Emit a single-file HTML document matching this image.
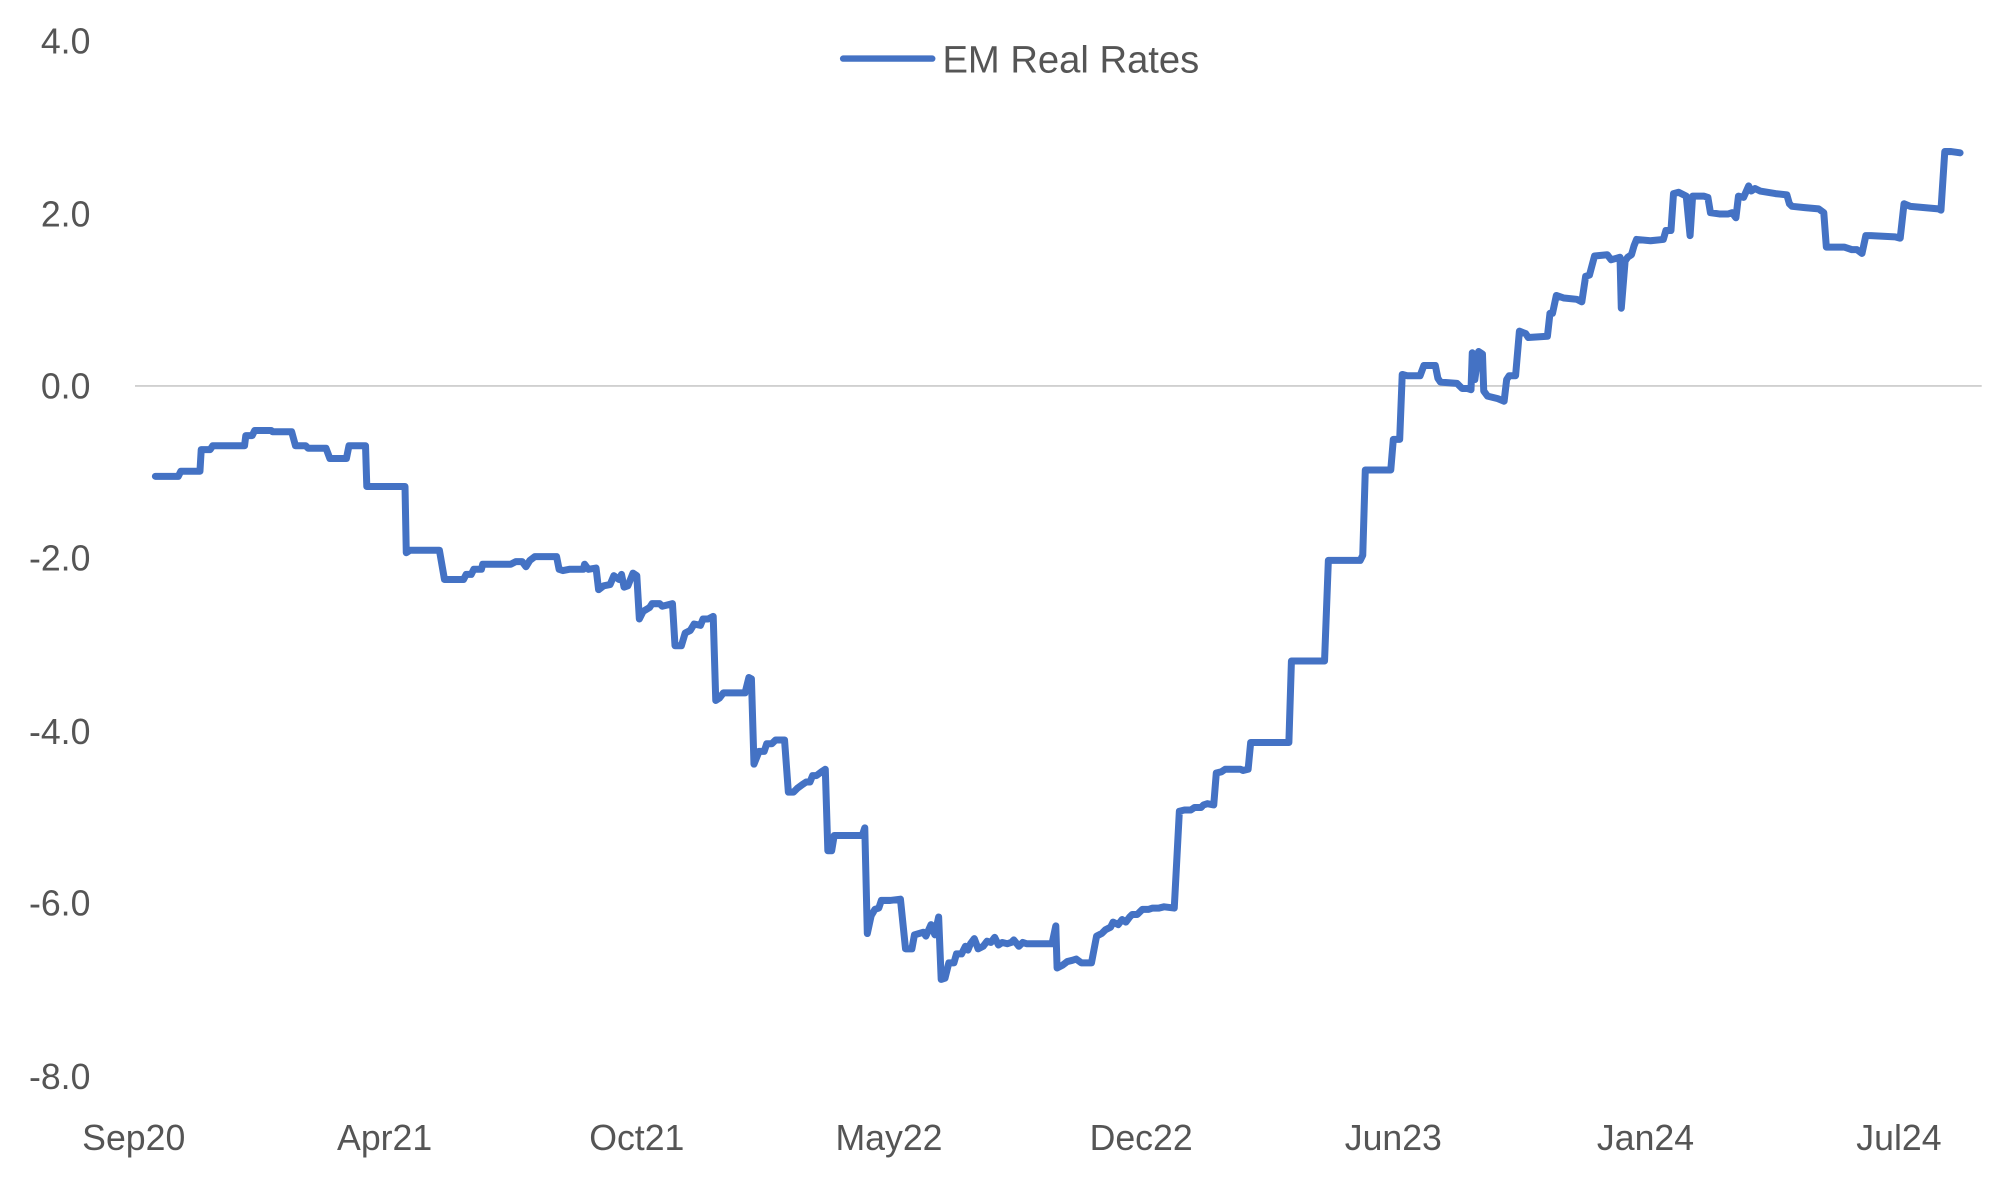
<!DOCTYPE html>
<html><head><meta charset="utf-8"><style>
html,body{margin:0;padding:0;background:#fff;}
svg{display:block;}
text{font-family:"Liberation Sans",sans-serif;fill:#555;}
</style></head><body>
<svg width="1997" height="1187" viewBox="0 0 1568 932" xmlns="http://www.w3.org/2000/svg">
<line x1="106" y1="303" x2="1556" y2="303" stroke="#d0d0d0" stroke-width="1.5"/>
<g font-size="28" text-anchor="end">
<text x="71" y="42">4.0</text>
<text x="71" y="178">2.0</text>
<text x="71" y="313">0.0</text>
<text x="71" y="448">-2.0</text>
<text x="71" y="584">-4.0</text>
<text x="71" y="719">-6.0</text>
<text x="71" y="855">-8.0</text>
</g>
<g font-size="28" text-anchor="middle">
<text x="105" y="903">Sep20</text>
<text x="302" y="903">Apr21</text>
<text x="500" y="903">Oct21</text>
<text x="698" y="903">May22</text>
<text x="896" y="903">Dec22</text>
<text x="1094" y="903">Jun23</text>
<text x="1292" y="903">Jan24</text>
<text x="1491" y="903">Jul24</text>
</g>
<line x1="662" y1="46" x2="732" y2="46" stroke="#4472c4" stroke-width="5" stroke-linecap="round"/>
<text x="740" y="57" font-size="30">EM Real Rates</text>
<polyline fill="none" stroke="#4472c4" stroke-width="5.5" stroke-linejoin="round" stroke-linecap="round" points="122,374 140,374 142,370 157,370 158,353 165,353 167,350 192,350 193,342 198,342 200,338 213,338 214,339 229,339 232,350 240,350 242,352 256,352 259,360 272,360 274,350 287,350 288,382 318,382 319,434 322,432 345,432 349,455 364,455 366,451 370,451 372,447 378,447 379,443 401,443 405,441 410,441 413,445 416,440 420,437 437,437 439,447 442,448 447,447 458,447 459,443 462,447 468,446 470,463 474,460 479,459 482,452 486,455 488,451 490,461 493,460 497,450 500,452 502,486 505,480 510,477 512,474 518,474 520,476 528,474 530,507 535,507 538,497 542,495 545,490 550,491 552,486 556,486 560,484 562,550 565,548 568,544 585,544 588,532 590,533 592,600 596,590 600,590 602,584 606,584 609,581 616,581 619,622 623,622 626,619 630,616 633,614 636,614 638,609 641,609 645,606 648,604 650,668 653,668 655,656 677,656 679,650 681,733 684,719 687,714 690,713 692,707 699,707 707,706 711,745 716,745 718,734 725,732 727,735 731,726 734,734 737,720 739,769 742,768 745,756 749,756 751,749 755,749 758,743 760,746 762,741 765,737 768,745 772,743 775,739 778,740 781,736 784,742 787,740 791,741 794,740 796,738 800,743 803,740 806,741 826,741 829,727 830,760 834,758 838,755 842,754 845,753 849,756 857,756 861,735 865,733 868,730 872,728 874,724 878,726 881,722 884,724 887,720 889,718 893,718 895,716 897,714 902,714 905,713 910,713 914,712 922,713 926,637 930,636 935,636 938,634 943,634 945,632 948,631 953,632 955,607 959,606 962,604 974,604 976,605 980,604 982,583 985,583 1012,583 1014,519 1020,519 1040,519 1043,440 1068,440 1070,436 1072,369 1075,369 1092,369 1094,345 1099,345 1101,294 1105,295 1115,295 1118,287 1127,287 1129,297 1131,300 1144,301 1148,305 1152,305 1155,306 1156,277 1158,298 1161,276 1164,278 1165,307 1168,311 1176,313 1181,315 1183,298 1185,295 1190,295 1193,260 1198,262 1200,265 1215,264 1217,246 1219,246 1222,232 1228,234 1238,235 1242,237 1245,217 1248,216 1252,201 1262,200 1265,204 1272,202 1273,242 1276,205 1278,202 1281,200 1283,193 1285,188 1296,189 1306,188 1308,181 1312,181 1314,152 1318,151 1324,154 1327,185 1329,154 1338,154 1341,155 1343,167 1350,168 1357,168 1360,167 1363,171 1365,154 1369,155 1373,146 1375,150 1378,148 1382,150 1388,151 1394,152 1403,153 1405,160 1407,162 1417,163 1428,164 1432,167 1434,194 1448,194 1454,196 1458,196 1462,199 1465,185 1469,185 1488,186 1492,187 1495,160 1500,162 1522,164 1524,165 1527,119 1532,119 1539,120"/>
</svg>
</body></html>
